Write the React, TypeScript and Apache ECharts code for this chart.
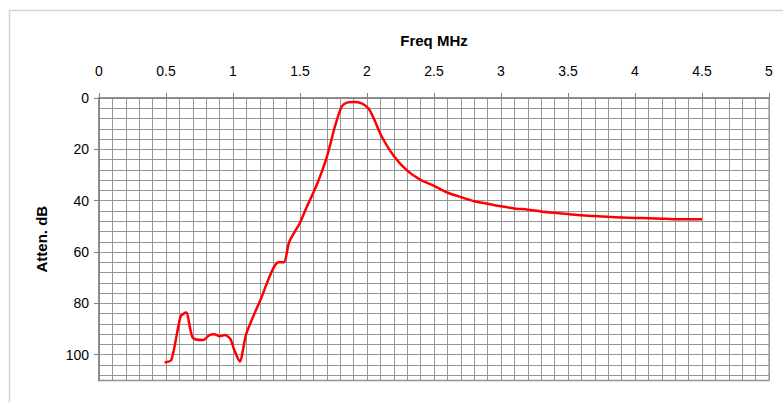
import React, { useEffect, useRef } from "react";
import * as echarts from "echarts";

const freqMHz = [
  0.49, 0.54, 0.61, 0.65, 0.7, 0.78, 0.82, 0.86, 0.9, 0.94, 0.98, 1.01, 1.05, 1.1,
  1.2, 1.34, 1.38, 1.42, 1.5, 1.55, 1.62, 1.7, 1.76, 1.81, 1.85, 1.9, 1.96, 2.01,
  2.05, 2.11, 2.2, 2.3, 2.4, 2.5, 2.6, 2.7, 2.8, 2.9, 3.0, 3.1, 3.2, 3.3, 3.4, 3.5,
  3.6, 3.7, 3.8, 3.9, 4.0, 4.1, 4.2, 4.3, 4.4, 4.5,
];
const attenDb = [
  103, 102, 85, 83.6, 93.4, 94.3, 92.5, 92, 92.8, 92.3, 93.8, 98.2, 102.6, 91.7,
  79.3, 64, 64, 56, 48.6, 42.5, 34.5, 23, 11.2, 3.4, 1.8, 1.6, 2.1, 4,
  7.9, 15, 22.6, 28.3, 31.9, 34.2, 36.8, 38.6, 40.2, 41.2, 42.2, 43, 43.5, 44.2, 44.7, 45.2,
  45.7, 46, 46.3, 46.5, 46.7, 46.8, 47, 47.2, 47.2, 47.2,
];
const xTitle = "Freq MHz";
const yTitle = "Atten. dB";

export default function App() {
  const ref = useRef<HTMLDivElement>(null);
  useEffect(() => {
    if (!ref.current) return;
    const chart = echarts.init(ref.current, null, { renderer: "svg" });
    const font = "'Liberation Sans', Arial, sans-serif";
    const gridColor = "#969696";
    chart.setOption({
      animation: false,
      backgroundColor: "#ffffff",
      textStyle: { fontFamily: font },
      graphic: [
        {
          type: "rect",
          shape: { x: 9.5, y: 10.5, width: 900, height: 600 },
          style: { fill: "none", stroke: "#d4d4d4", lineWidth: 1.5 },
          silent: true,
        },
      ],
      grid: {
        left: 99,
        top: 98,
        right: 14,
        bottom: 21.6,
        show: true,
        borderColor: "#c4c4c4",
        borderWidth: 2,
        backgroundColor: "transparent",
      },
      xAxis: [
        {
          type: "value",
          position: "top",
          min: 0,
          max: 5,
          interval: 0.5,
          name: xTitle,
          nameLocation: "middle",
          nameGap: 50,
          nameTextStyle: { fontFamily: font, fontWeight: "bold", fontSize: 15, color: "#000" },
          axisLine: { show: true, lineStyle: { color: "#808080", width: 1.5 } },
          axisTick: { show: true, inside: false, length: 5, lineStyle: { color: "#808080" } },
          minorTick: { show: false, splitNumber: 5 },
          axisLabel: { fontFamily: font, fontSize: 14, color: "#000", margin: 20 },
          splitLine: { show: true, lineStyle: { color: gridColor, width: 1 } },
          minorSplitLine: { show: true, lineStyle: { color: gridColor, width: 1 } },
        },
      ],
      yAxis: [
        {
          type: "value",
          inverse: true,
          min: 0,
          max: 110,
          interval: 4,
          axisLine: { show: false },
          axisTick: { show: false },
          axisLabel: { show: false },
          splitLine: { show: true, lineStyle: { color: gridColor, width: 1 } },
        },
        {
          type: "value",
          position: "left",
          inverse: true,
          min: 0,
          max: 110,
          interval: 20,
          name: yTitle,
          nameLocation: "middle",
          nameRotate: 90,
          nameGap: 50,
          nameTextStyle: { fontFamily: font, fontWeight: "bold", fontSize: 15, color: "#000" },
          axisLine: { show: true, lineStyle: { color: "#808080", width: 1.5 } },
          axisTick: { show: true, length: 5, lineStyle: { color: "#808080" } },
          axisLabel: {
            fontFamily: font,
            fontSize: 14,
            color: "#000",
            margin: 10,
            showMaxLabel: false,
          },
          splitLine: { show: false },
        },
      ],
      series: [
        {
          type: "line",
          xAxisIndex: 0,
          yAxisIndex: 1,
          data: freqMHz.map((f, i) => [f, attenDb[i]]),
          showSymbol: false,
          smooth: 0.25,
          lineStyle: { color: "#ff0000", width: 2.5 },
          z: 5,
        },
      ],
    });
    return () => chart.dispose();
  }, []);
  return (
    <div
      ref={ref}
      style={{ position: "fixed", left: 0, top: 0, width: 783, height: 402 }}
    />
  );
}
